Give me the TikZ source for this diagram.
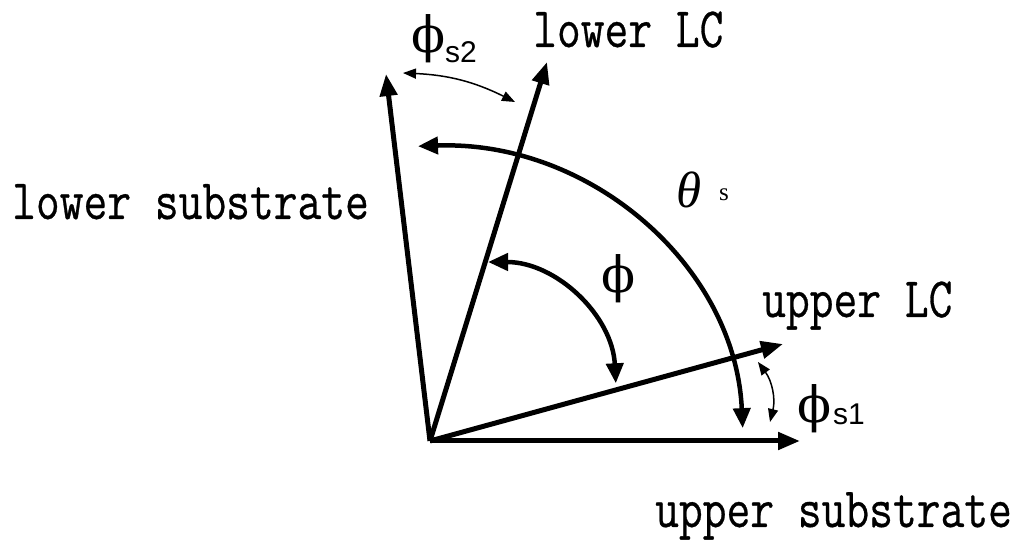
\documentclass[tikz,border=0pt]{standalone}
\usepackage{fontspec}
\newfontfamily\grkfont{DejaVu Serif}
\newfontfamily\tmsfont{Liberation Serif}
\newfontfamily\arifont{Liberation Sans}
\newfontfamily\lblfont{Latin Modern Mono}[FakeBold=0.6]
\usetikzlibrary{arrows.meta}
\newcommand{\lbltxt}[1]{\scalebox{0.81}[1]{\lblfont\fontsize{57}{60}\selectfont #1}}
\tikzset{
  mainarrow/.style={line width=5pt, -{Triangle[length=22pt,width=17pt]}},
  bigarc/.style={line width=4.5pt, {Triangle[length=20pt,width=17pt]}-{Triangle[length=20pt,width=17pt]}},
  thinarc/.style={line width=1.5pt, {Triangle[length=13pt,width=10pt]}-{Triangle[length=13pt,width=10pt]}},
  lbl/.style={inner sep=0pt, anchor=base west},
  sym/.style={inner sep=0pt}
}
\begin{document}
\begin{tikzpicture}[x=1pt,y=1pt]
\useasboundingbox (0,0) rectangle (1022,543);
% vectors
\coordinate (O) at (430,102);
\coordinate (US) at (800,102);
\coordinate (ULC) at (783,199);
\coordinate (LLC) at (547,481);
\coordinate (LS) at (386,469);
\draw[mainarrow] (O) -- (US);
\draw[mainarrow] (O) -- (ULC);
\draw[mainarrow] (O) -- (LLC);
\draw[mainarrow] (O) -- (LS);
% theta_s arc
\draw[bigarc] ([shift={(92.2:313 and 295)}]O) arc[start angle=92.2, end angle=2.5, x radius=313, y radius=295];
% phi arc
\coordinate (Pc) at (488,153);
\draw[bigarc] ([shift={(90:128)}]Pc) arc[start angle=90, end angle=3, radius=128];
% phi_s2 arc
\coordinate (A2s) at (403,470);
\coordinate (A2e) at (515,441);
\draw[thinarc] (A2s) to[bend left=12] (A2e);
% phi_s1 arc
\coordinate (A1s) at (758,181);
\coordinate (A1e) at (770,121);
\draw[thinarc] (A1s) to[bend left=25] (A1e);
% labels
\node[lbl] (lLC) at (533,496) {\lbltxt{lower LC}};
\node[lbl] (lSub) at (12,324) {\lbltxt{lower substrate}};
\node[lbl] (uLC) at (762,226) {\lbltxt{upper LC}};
\node[lbl] (uSub) at (655,16) {\lbltxt{upper substrate}};
\node[sym] (th) at (689,353) {\tmsfont\itshape\fontsize{51}{55}\selectfont θ};
\node[sym] (ths) at (724,348) {\tmsfont\fontsize{25}{27}\selectfont s};
\node[sym] (ph) at (619,264) {\grkfont\fontsize{50}{55}\selectfont ϕ};
\node[sym] (ph1) at (815,134) {\grkfont\fontsize{50}{55}\selectfont ϕ};
\node[lbl] (s1) at (833,118) {\arifont\fontsize{30}{32}\selectfont s1};
\node[sym] (ph2) at (429,504) {\grkfont\fontsize{50}{55}\selectfont ϕ};
\node[lbl] (s2) at (445,480) {\arifont\fontsize{30}{32}\selectfont s2};
\end{tikzpicture}
\end{document}
